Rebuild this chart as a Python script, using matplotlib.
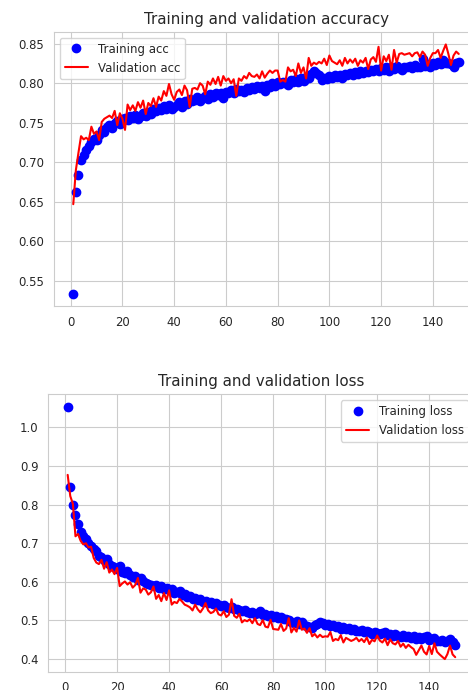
import matplotlib
matplotlib.use("Agg")
import matplotlib.pyplot as plt
import seaborn as sns

sns.set_style("whitegrid")
plt.rcParams['font.family'] = ['DejaVu Sans']

train_acc = [
    0.534, 0.663, 0.684, 0.703, 0.709, 0.715, 0.720, 0.726, 0.730, 0.728,
    0.735, 0.741, 0.738, 0.744, 0.747, 0.743, 0.750, 0.752, 0.748, 0.755,
    0.756, 0.753, 0.758, 0.756, 0.760, 0.755, 0.759, 0.762, 0.758, 0.764,
    0.761, 0.767, 0.765, 0.769, 0.766, 0.771, 0.768, 0.773, 0.767, 0.770,
    0.772, 0.776, 0.770, 0.778, 0.774, 0.780, 0.777, 0.779, 0.782, 0.778,
    0.781, 0.784, 0.780, 0.786, 0.783, 0.788, 0.785, 0.787, 0.781, 0.789,
    0.787, 0.791, 0.788, 0.793, 0.790, 0.792, 0.789, 0.794, 0.791, 0.795,
    0.793, 0.797, 0.794, 0.796, 0.790, 0.798, 0.795, 0.800, 0.797, 0.801,
    0.799, 0.802, 0.800, 0.798, 0.804, 0.801, 0.805, 0.802, 0.806, 0.803,
    0.808, 0.806, 0.812, 0.815, 0.813, 0.810, 0.804, 0.807, 0.805, 0.809,
    0.806, 0.810, 0.808, 0.811, 0.807, 0.812, 0.810, 0.813, 0.811, 0.814,
    0.812, 0.815, 0.813, 0.816, 0.814, 0.817, 0.815, 0.818, 0.816, 0.819,
    0.817, 0.820, 0.815, 0.821, 0.818, 0.822, 0.819, 0.817, 0.821, 0.820,
    0.822, 0.819, 0.823, 0.821, 0.820, 0.831, 0.822, 0.824, 0.820, 0.826,
    0.823, 0.827, 0.824, 0.829, 0.825, 0.826, 0.824, 0.821, 0.825, 0.827,
]

val_acc = [
    0.647, 0.690, 0.712, 0.733, 0.729, 0.731, 0.728, 0.745, 0.736, 0.739,
    0.728, 0.751, 0.755, 0.757, 0.759, 0.756, 0.765, 0.747, 0.762, 0.755,
    0.741, 0.773, 0.766, 0.772, 0.765, 0.776, 0.769, 0.778, 0.761, 0.775,
    0.771, 0.781, 0.770, 0.783, 0.778, 0.790, 0.784, 0.799, 0.786, 0.779,
    0.789, 0.792, 0.785, 0.797, 0.791, 0.770, 0.793, 0.794, 0.792, 0.800,
    0.797, 0.786, 0.802, 0.798, 0.806, 0.799, 0.808, 0.797, 0.809, 0.803,
    0.806, 0.800, 0.805, 0.784, 0.806, 0.803, 0.809, 0.806, 0.813, 0.809,
    0.808, 0.811, 0.806, 0.815, 0.807, 0.812, 0.816, 0.813, 0.816, 0.816,
    0.802, 0.804, 0.802, 0.820, 0.815, 0.817, 0.809, 0.825, 0.813, 0.820,
    0.806, 0.832, 0.822, 0.826, 0.824, 0.827, 0.825, 0.831, 0.823, 0.835,
    0.828, 0.826, 0.824, 0.829, 0.822, 0.832, 0.825, 0.830, 0.826, 0.831,
    0.822, 0.829, 0.826, 0.832, 0.818, 0.830, 0.833, 0.827, 0.846, 0.816,
    0.834, 0.828, 0.836, 0.817, 0.842, 0.826, 0.837, 0.838, 0.836, 0.837,
    0.838, 0.834, 0.838, 0.839, 0.833, 0.840, 0.836, 0.822, 0.832, 0.838,
    0.838, 0.842, 0.832, 0.841, 0.849, 0.837, 0.823, 0.835, 0.840, 0.837,
]

train_loss = [
    1.053, 0.845, 0.798, 0.773, 0.750, 0.728, 0.720, 0.712, 0.700, 0.693,
    0.685, 0.680, 0.668, 0.664, 0.656, 0.658, 0.647, 0.641, 0.639, 0.633,
    0.640, 0.626, 0.624, 0.628, 0.619, 0.613, 0.616, 0.606, 0.609, 0.603,
    0.598, 0.594, 0.591, 0.589, 0.592, 0.585, 0.588, 0.581, 0.583, 0.578,
    0.582, 0.571, 0.574, 0.577, 0.566, 0.569, 0.560, 0.563, 0.556, 0.559,
    0.552, 0.555, 0.548, 0.551, 0.546, 0.549, 0.542, 0.545, 0.540, 0.537,
    0.541, 0.535, 0.533, 0.536, 0.529, 0.531, 0.527, 0.524, 0.528, 0.522,
    0.520, 0.523, 0.517, 0.519, 0.525, 0.514, 0.516, 0.511, 0.513, 0.509,
    0.511, 0.506, 0.509, 0.503, 0.505, 0.500, 0.497, 0.494, 0.498, 0.492,
    0.495, 0.489, 0.486, 0.483, 0.481, 0.487, 0.491, 0.495, 0.493, 0.489,
    0.491, 0.485, 0.488, 0.482, 0.485, 0.479, 0.482, 0.477, 0.480, 0.476,
    0.478, 0.474, 0.472, 0.475, 0.471, 0.473, 0.469, 0.466, 0.470, 0.467,
    0.465, 0.468, 0.471, 0.463, 0.466, 0.460, 0.464, 0.461, 0.457, 0.462,
    0.458, 0.461, 0.455, 0.459, 0.453, 0.456, 0.451, 0.458, 0.461, 0.449,
    0.452, 0.455, 0.448, 0.446, 0.450, 0.444, 0.447, 0.452, 0.443, 0.437,
]

val_loss = [
    0.877, 0.822, 0.802, 0.718, 0.724, 0.706, 0.697, 0.700, 0.689, 0.691,
    0.662, 0.650, 0.646, 0.657, 0.634, 0.651, 0.624, 0.632, 0.620, 0.636,
    0.589, 0.596, 0.601, 0.593, 0.599, 0.585, 0.592, 0.610, 0.572, 0.583,
    0.580, 0.567, 0.573, 0.588, 0.556, 0.566, 0.550, 0.571, 0.553, 0.578,
    0.541, 0.548, 0.545, 0.556, 0.549, 0.541, 0.538, 0.534, 0.526, 0.541,
    0.529, 0.521, 0.531, 0.545, 0.526, 0.519, 0.522, 0.531, 0.516, 0.513,
    0.524, 0.509, 0.515, 0.555, 0.512, 0.507, 0.517, 0.495, 0.501, 0.498,
    0.503, 0.493, 0.506, 0.491, 0.488, 0.501, 0.484, 0.482, 0.502, 0.478,
    0.477, 0.476, 0.491, 0.473, 0.479, 0.506, 0.469, 0.481, 0.471, 0.500,
    0.476, 0.479, 0.468, 0.480, 0.459, 0.465, 0.456, 0.463, 0.457, 0.459,
    0.458, 0.470, 0.447, 0.452, 0.449, 0.462, 0.443, 0.455, 0.451, 0.447,
    0.450, 0.455, 0.446, 0.452, 0.444, 0.456, 0.439, 0.450, 0.446, 0.461,
    0.448, 0.443, 0.453, 0.436, 0.451, 0.441, 0.438, 0.447, 0.432, 0.440,
    0.429, 0.437, 0.431, 0.426, 0.411, 0.423, 0.435, 0.419, 0.412, 0.434,
    0.413, 0.441, 0.419, 0.412, 0.406, 0.400, 0.413, 0.435, 0.412, 0.405,
]

epochs = list(range(1, len(train_acc) + 1))

fig = plt.figure(figsize=(4.68, 6.90), dpi=100)

ax1 = fig.add_axes([54 / 468, 1 - 306 / 690, (478 - 54) / 468, (306 - 32) / 690])
ax1.plot(epochs, train_acc, 'bo', markersize=6, label='Training acc')
ax1.plot(epochs, val_acc, 'r', linewidth=1.5, label='Validation acc')
ax1.set_title('Training and validation accuracy', fontsize=10.8)
ax1.tick_params(labelsize=8.4)
ax1.legend(fontsize=8.5, loc='upper left')

ax2 = fig.add_axes([48.3 / 468, 1 - 671.7 / 690, (474.6 - 48.3) / 468, (671.7 - 394.3) / 690])
ax2.plot(epochs, train_loss, 'bo', markersize=6, label='Training loss')
ax2.plot(epochs, val_loss, 'r', linewidth=1.5, label='Validation loss')
ax2.set_title('Training and validation loss', fontsize=10.8)
ax2.tick_params(labelsize=8.4)
ax2.legend(fontsize=8.5, loc='upper right')

fig.savefig('out.png', dpi=100)
